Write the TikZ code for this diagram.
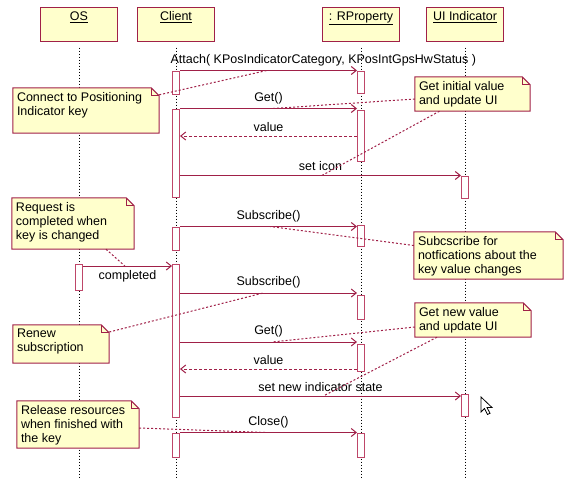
\documentclass[tikz,border=0pt]{standalone}
\usepackage{fontspec}
\setmainfont{Liberation Sans}
\usetikzlibrary{arrows.meta,fit}
\definecolor{umlred}{RGB}{160,32,72}
\definecolor{barred}{RGB}{190,70,105}
\definecolor{noteyel}{RGB}{255,255,204}
\tikzset{
  every node/.style={font=\fontsize{12.5}{14}\selectfont, text=black},
  headbox/.style={draw=umlred, fill=noteyel, line width=1pt, minimum width=77pt, minimum height=34pt, inner sep=0},
  headlbl/.style={anchor=north, inner sep=0},
  lifeline/.style={black, line width=1pt, dash pattern=on 1pt off 2pt},
  actbar/.style={draw=barred, fill=white, line width=1pt, inner sep=0},
  msg/.style={umlred, line width=1pt, -{Straight Barb[length=5pt,width=8pt]}},
  ret/.style={msg, dash pattern=on 3pt off 2pt},
  notelink/.style={umlred, line width=1pt, dash pattern=on 2pt off 2pt},
  noteshape/.style={draw=umlred, fill=noteyel, line width=1pt},
  notetext/.style={anchor=north west, inner sep=0, align=left},
  msglbl/.style={inner sep=4pt},
}
\newcommand{\umlnote}[6]{%
  \node[fit={(#2,#3) (#4,#5)}, inner sep=0] (#1) {};
  \filldraw[noteshape] (#1.north west) -- ([xshift=-8pt]#1.north east) -- ([yshift=-8pt]#1.north east) -- (#1.south east) -- (#1.south west) -- cycle;
  \draw[noteshape, fill=none] ([xshift=-8pt]#1.north east) -- ([xshift=-8pt,yshift=-8pt]#1.north east) -- ([yshift=-8pt]#1.north east);
  \node[notetext] (#1-text) at ([xshift=4pt,yshift=-4pt]#1.north west) {#6};
}
\newcommand{\umlbar}[4]{% name, x, y1, y2
  \node[actbar, fit={(#2-3.5,#3) (#2+3.5,#4)}] (#1) {};
}
\begin{document}
\begin{tikzpicture}[x=1pt,y=-1pt]
\useasboundingbox (0,0) rectangle (572,490);
\fill[white] (0,0) rectangle (572,490);

% heads
\node[headbox] (os) at (79,24) {};
\node[headlbl] (oslbl) at ([yshift=-5pt]os.north) {\underline{OS}};
\node[headbox] (cl) at (176,24) {};
\node[headlbl] (cllbl) at ([yshift=-5pt]cl.north) {\underline{Client}};
\node[headbox] (rp) at (361,24) {};
\node[headlbl] (rplbl) at ([yshift=-5pt]rp.north) {\underline{: RProperty}};
\node[headbox] (ui) at (465,24) {};
\node[headlbl] (uilbl) at ([yshift=-5pt]ui.north) {\underline{UI Indicator}};

% lifelines
\coordinate (bottom) at (0,477);
\draw[lifeline] ([yshift=-6pt]os.south) -- (os.south |- bottom);
\draw[lifeline] ([yshift=-6pt]cl.south) -- (cl.south |- bottom);
\draw[lifeline] ([yshift=-6pt]rp.south) -- (rp.south |- bottom);
\draw[lifeline] ([yshift=-6pt]ui.south) -- (ui.south |- bottom);

% activation bars
\umlbar{ca1}{176}{71}{94}
\umlbar{ca2}{176}{109}{197}
\umlbar{ca3}{176}{227}{250}
\umlbar{ca4}{176}{264}{417}
\umlbar{ca5}{176}{433}{457}
\umlbar{ra1}{361}{71}{93}
\umlbar{ra2}{361}{110}{161}
\umlbar{ra3}{361}{225}{246}
\umlbar{ra4}{361}{295}{319}
\umlbar{ra5}{361}{344}{371}
\umlbar{ra6}{361}{433}{457}
\umlbar{ua1}{465}{176}{198}
\umlbar{ua2}{465}{394}{416}
\umlbar{oa1}{79}{264}{290}

% message levels
\coordinate (y3) at (0,136);
\coordinate (y6) at (0,266);
\coordinate (y7) at (0,293);
\coordinate (y8) at (0,342);
\coordinate (y9) at (0,369);
\coordinate (y10) at (0,396);

% messages
\draw[msg] (ca1.north east) -- (ca1.north east -| ra1.west)
  node[msglbl, above, pos=0.81] (l1) {Attach( KPosIndicatorCategory, KPosIntGpsHwStatus )}
  coordinate[pos=0.49] (p1);
\draw[msg] (ca2.north east) -- (ca2.north east -| ra2.west)
  node[msglbl, above, midway] (l2) {Get()} coordinate[pos=0.525] (p2);
\draw[ret] (ra2.west |- y3) -- (ca2.east |- y3)
  node[msglbl, above, midway] (l3) {value};
\draw[msg] (ca2.east |- ua1.north) -- (ua1.north west)
  node[msglbl, above, midway] (l4) {set icon} coordinate[pos=0.505] (p4);
\draw[msg] (ca3.north east) -- (ca3.north east -| ra3.west)
  node[msglbl, above, midway] (l5) {Subscribe()} coordinate[pos=0.51] (p5);
\draw[msg] (oa1.east |- y6) -- (ca4.west |- y6)
  node[msglbl, below, midway] (l6) {completed} coordinate[pos=0.47] (p6);
\draw[msg] (ca4.east |- y7) -- (ra4.west |- y7)
  node[msglbl, above, midway] (l7) {Subscribe()} coordinate[pos=0.47] (p7);
\draw[msg] (ca4.east |- y8) -- (ra5.west |- y8)
  node[msglbl, above, midway] (l8) {Get()} coordinate[pos=0.52] (p8);
\draw[ret] (ra5.west |- y9) -- (ca4.east |- y9)
  node[msglbl, above, midway] (l9) {value};
\draw[msg] (ca4.east |- y10) -- (ua2.west |- y10)
  node[msglbl, above, midway] (l10) {set new indicator state} coordinate[pos=0.51] (p10);
\draw[msg] (ca5.north east) -- (ra6.north west)
  node[msglbl, above, midway] (l11) {Close()} coordinate[pos=0.49] (p11);

% notes
\umlnote{n1}{13}{88}{159}{133}{Connect to Positioning\\Indicator key}
\umlnote{n2}{415}{77}{530}{111}{Get initial value\\and update UI}
\umlnote{n3}{12}{198}{134}{249}{Request is\\completed when\\key is changed}
\umlnote{n4}{414}{232}{563}{279}{Subcscribe for\\notfications about the\\key value changes}
\umlnote{n5}{13}{325}{109}{363}{Renew\\subscription}
\umlnote{n6}{415}{303}{531}{337}{Get new value\\and update UI}
\umlnote{n7}{17}{401}{139}{448}{Release resources\\when finished with\\the key}

% note links
\draw[notelink] ([yshift=-7pt]n1.north east) -- (p1);
\draw[notelink] ([yshift=-5pt]n2.west) -- (p2);
\draw[notelink] ([xshift=-33pt]n2.south) -- (p4);
\draw[notelink] ([xshift=33pt]n3.south) -- (p6);
\draw[notelink] ([yshift=10pt]n4.west) -- (p5);
\draw[notelink] ([yshift=12pt]n5.east) -- (p7);
\draw[notelink] ([yshift=-7pt]n6.west) -- (p8);
\draw[notelink] ([xshift=-36pt]n6.south) -- (p10);
\draw[notelink] ([yshift=-3.5pt]n7.east) -- (p11);

% mouse cursor
\filldraw[fill=white, draw=black, line width=0.8pt, line join=miter]
  (481,397) -- ++(0,15) -- ++(3.5,-3.5) -- ++(3,6) -- ++(2.5,-1.2) -- ++(-3,-5.8) -- ++(5,0) -- cycle;
\end{tikzpicture}
\end{document}
